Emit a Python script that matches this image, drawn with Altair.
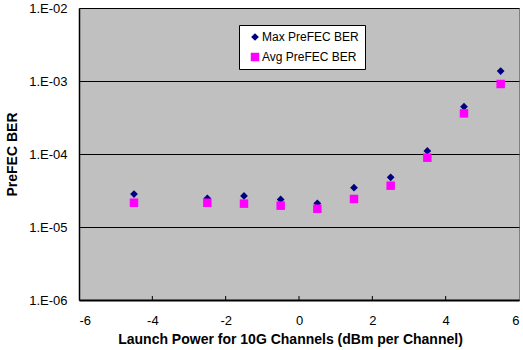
import altair as alt
import pandas as pd

power = [-4.5, -2.5, -1.5, -0.5, 0.5, 1.5, 2.5, 3.5, 4.5, 5.5]
max_ber = [2.83e-5, 2.47e-5, 2.66e-5, 2.39e-5, 2.11e-5, 3.46e-5, 4.79e-5, 1.10e-4, 4.45e-4, 1.37e-3]
avg_ber = [2.15e-5, 2.15e-5, 2.09e-5, 1.96e-5, 1.78e-5, 2.42e-5, 3.68e-5, 8.9e-5, 3.6e-4, 9.1e-4]
series_names = ["Max PreFEC BER", "Avg PreFEC BER"]
series_colors = ["#000080", "#FF00FF"]
series_shapes = ["diamond", "square"]
x_ticks = [-6, -4, -2, 0, 2, 4, 6]
y_ticks = [1e-6, 1e-5, 1e-4, 1e-3, 1e-2]

rows = []
for i, p in enumerate(power):
    rows.append({"power": p, "ber": max_ber[i], "series": series_names[0], "order": 0})
for i, p in enumerate(power):
    rows.append({"power": p, "ber": avg_ber[i], "series": series_names[1], "order": 1})
df = pd.DataFrame(rows)

FONT = "Liberation Sans"

xscale = alt.Scale(domain=[-6, 6], nice=False)
yscale = alt.Scale(type="log", domain=[1e-6, 1e-2], nice=False)

points = alt.Chart(df).mark_point(filled=True, opacity=1).encode(
    x=alt.X("power:Q", scale=xscale,
            axis=alt.Axis(values=x_ticks, title="Launch Power for 10G Channels (dBm per Channel)",
                          grid=False, ticks=False, labelPadding=14, domainColor="black",
                          domainWidth=2, labelFontSize=13, titleFontSize=14,
                          labelExpr="datum.value < 0 ? '-' + abs(datum.value) : '' + datum.value",
                          titleFontWeight="bold", titlePadding=5, titleX=211,
                          labelColor="black",
                          titleColor="black", labelFont=FONT, titleFont=FONT)),
    y=alt.Y("ber:Q", scale=yscale,
            axis=alt.Axis(values=y_ticks, title="PreFEC BER", grid=True, gridColor="black",
                          gridOpacity=1, gridWidth=1, ticks=False, labelPadding=12,
                          domainColor="black", domainWidth=1.5,
                          labelExpr="'1.E-0' + round(-log(datum.value)/LN10)",
                          labelFontSize=13, titleFontSize=14, titleFontWeight="bold",
                          titlePadding=9, labelColor="black", titleColor="black",
                          labelFont=FONT, titleFont=FONT)),
    color=alt.Color("series:N", scale=alt.Scale(domain=series_names, range=series_colors),
                    legend=alt.Legend(title=None, orient="none", legendX=160, legendY=17,
                                      fillColor="white", strokeColor="black",
                                      padding=6, rowPadding=8, labelFontSize=12,
                                      labelFont=FONT, labelColor="black", symbolSize=64,
                                      symbolOffset=4, symbolStrokeWidth=0, labelOffset=1)),
    shape=alt.Shape("series:N", scale=alt.Scale(domain=series_names, range=series_shapes)),
    size=alt.Size("series:N", scale=alt.Scale(domain=series_names, range=[60, 72]), legend=None),
    order=alt.Order("order:Q"),
)

tick_df = pd.DataFrame({"t": x_ticks[1:-1]})
ticks = alt.Chart(tick_df).mark_rule(color="black", strokeWidth=1).encode(
    x=alt.X("t:Q", scale=xscale),
    y=alt.value(292),
    y2=alt.value(288),
)

chart = alt.layer(points, ticks).properties(
    width=440, height=292,
    background="white",
    autosize=alt.AutoSizeParams(type="none"),
    padding={"left": 79, "top": 8, "right": 4, "bottom": 50},
).configure_view(
    fill="#C0C0C0", stroke="#808080", strokeWidth=1
)

chart.save("out.html", embed_options={"renderer": "svg", "actions": False})
